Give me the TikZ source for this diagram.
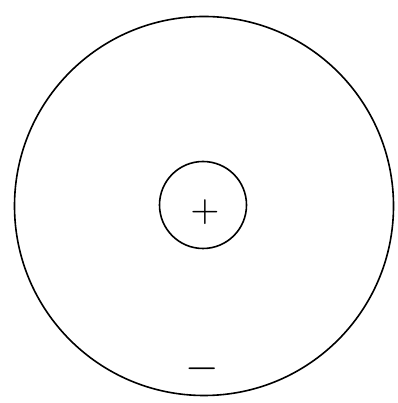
\documentclass[tikz,border=0pt]{standalone}
\begin{document}
\begin{tikzpicture}[x=1pt,y=1pt,
  ring/.style={draw=black,line width=1.6pt,circle,inner sep=0pt,fill=none},
  sign/.style={inner sep=0pt,outer sep=0pt}]
\useasboundingbox[fill=white] (0,0) rectangle (397,403);
\node[ring,minimum size=379pt] (outer) at (204,197) {};
\node[ring,minimum size=87pt] (inner) at (203,198) {};
\node[sign,scale=3.75] (plus) at (205,191) {$+$};
\node[sign,scale=4.3] (minus) at (202.5,34) {$-$};
\end{tikzpicture}
\end{document}
